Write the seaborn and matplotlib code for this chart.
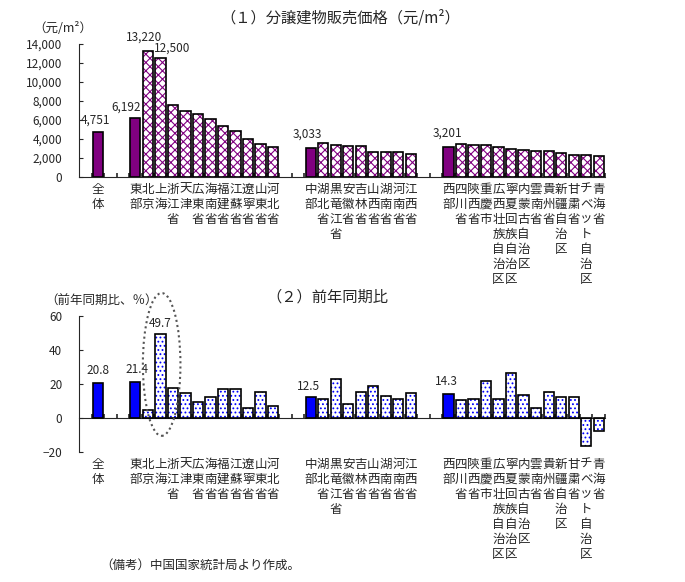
import numpy as np
import pandas as pd
import matplotlib
matplotlib.use("Agg")
import matplotlib.pyplot as plt
from matplotlib.patches import Rectangle, Ellipse
from matplotlib.ticker import FuncFormatter
import seaborn as sns

sns.set_style("ticks")
plt.rcParams['font.family'] = ['Noto Sans CJK JP', 'DejaVu Sans']
plt.rcParams['hatch.linewidth'] = 0.8

# 地域（グループごと、先頭が集計値）
national = ["全体"]
east = ["東部", "北京", "上海", "浙江省", "天津", "広東省", "海南省", "福建省",
        "江蘇省", "遼寧省", "山東省", "河北省"]
central = ["中部", "湖北省", "黒竜江省", "安徽省", "吉林省", "山西省", "湖南省",
           "河南省", "江西省"]
west = ["西部", "四川省", "陝西省", "重慶市", "広西壮族自治区", "寧夏回族自治区",
        "内蒙古自治区", "雲南省", "貴州省", "新疆自治区", "甘粛省", "チベット自治区", "青海省"]

# (1) 分譲建物販売価格（元/m2）
price_national = [4751]
price_east = [6192, 13220, 12500, 7600, 6900, 6580, 6060, 5320, 4800, 3960, 3430, 3120]
price_central = [3033, 3600, 3400, 3290, 3220, 2660, 2660, 2590, 2450]
price_west = [3201, 3500, 3400, 3400, 3120, 2980, 2870, 2770, 2770, 2560, 2350, 2350, 2240]

# (2) 前年同期比（%）
yoy_national = [20.8]
yoy_east = [21.4, 4.5, 49.7, 17.6, 14.6, 9.3, 12.2, 17.0, 17.0, 6.1, 15.2, 6.9]
yoy_central = [12.5, 11.0, 22.9, 8.1, 15.2, 18.7, 12.8, 11.0, 14.6]
yoy_west = [14.3, 10.5, 11.0, 21.9, 11.0, 26.4, 13.4, 5.7, 15.2, 12.2, 12.2, -16.2, -7.9]

names = national + east + central + west
df = pd.DataFrame({
    "name": names,
    "price": price_national + price_east + price_central + price_west,
    "yoy": yoy_national + yoy_east + yoy_central + yoy_west,
})
summary = [national[0], east[0], central[0], west[0]]
order = national + ["_g1", "_g2"] + east + ["_g3", "_g4"] + central + ["_g5", "_g6"] + west
ticklabels = ["" if n.startswith("_g") else "\n".join(n) for n in order]

fig = plt.figure(figsize=(6.85, 5.82), dpi=100)
ax1 = fig.add_axes([79/685, 1-177/582, 526/685, 133/582])
ax2 = fig.add_axes([79/685, 1-452/582, 526/685, 136/582])


def draw(ax, col, fill, hatch):
    sns.barplot(data=df, x="name", y=col, order=order, width=0.82, color="white",
                saturation=1, errorbar=None, ax=ax)
    for p in list(ax.patches):
        name = order[int(round(p.get_x() + p.get_width() / 2))]
        if name in summary:
            p.set_facecolor(fill)
            p.set_edgecolor("none")
        else:
            p.set_facecolor("white")
            p.set_edgecolor(fill)
            p.set_hatch(hatch)
            p.set_linewidth(0)
        ax.add_patch(Rectangle(p.get_xy(), p.get_width(), p.get_height(),
                               fill=False, edgecolor="black", lw=1.2, zorder=3))
    ax.set_xlim(-1.5, len(order) - 0.5)
    ax.set_xlabel("")
    ax.set_ylabel("")
    for s in ["top", "right"]:
        ax.spines[s].set_visible(False)
    ax.spines["bottom"].set_position(("data", 0))
    ax.set_xticks(np.arange(-0.5, len(order)), minor=True)
    ax.set_xticks(range(len(order)))
    ax.tick_params(axis="x", which="major", length=0, labelbottom=False)
    ax.tick_params(axis="x", which="minor", direction="in", length=3, width=1.2)
    ax.tick_params(axis="y", direction="in", length=3, pad=12, labelsize=8.5)
    sec = ax.secondary_xaxis("bottom")
    sec.set_xticks(range(len(order)), labels=ticklabels)
    sec.spines["bottom"].set_visible(False)
    sec.tick_params(length=0, pad=4, labelsize=9)


draw(ax1, "price", "#800080", "xxxx")
ax1.set_ylim(0, 14000)
ax1.set_yticks(range(0, 14001, 2000))
ax1.yaxis.set_major_formatter(FuncFormatter(lambda v, _: f"{v:,.0f}"))

draw(ax2, "yoy", "#0000FF", "....")
ax2.set_ylim(-20, 60)
ax2.set_yticks(range(-20, 61, 20))

# 数値ラベル
pos = {n: i for i, n in enumerate(order)}
val1 = dict(zip(df["name"], df["price"]))
val2 = dict(zip(df["name"], df["yoy"]))
for n, dx, dy in [("全体", -2, 12), ("東部", -9, 11), ("北京", -4, 14),
                  ("上海", 12, 10), ("中部", -3, 14), ("西部", -1, 13)]:
    ax1.annotate(f"{val1[n]:,}", (pos[n], val1[n]), xytext=(dx, dy),
                 textcoords="offset pixels", ha="center", va="center", fontsize=8.5)
for n, dx, dy in [("全体", 0, 12), ("東部", 2, 12), ("上海", 0, 10),
                  ("中部", -2, 10), ("西部", -2, 12)]:
    ax2.annotate(f"{val2[n]:.1f}", (pos[n], val2[n]), xytext=(dx, dy),
                 textcoords="offset pixels", ha="center", va="center", fontsize=8.5)

ax2.add_patch(Ellipse((pos["上海"] + 0.1, 31.5), width=3.0, height=84, fill=False,
                      ls=(0, (1, 1.5)), ec="#555555", lw=1.5, clip_on=False, zorder=4))

fig.text(340/685, 1-18/582, "（１）分譲建物販売価格（元/m²）", ha="center", va="center", fontsize=11)
fig.text(327/685, 1-297/582, "（２）前年同期比", ha="center", va="center", fontsize=11)
fig.text(33/685, 1-28/582, "（元/m²）", ha="left", va="center", fontsize=9)
fig.text(45/685, 1-301/582, "（前年同期比、％）", ha="left", va="center", fontsize=9)
fig.text(100/685, 1-565/582, "（備考）中国国家統計局より作成。", ha="left", va="center", fontsize=9)

fig.savefig("out.png", dpi=100)
